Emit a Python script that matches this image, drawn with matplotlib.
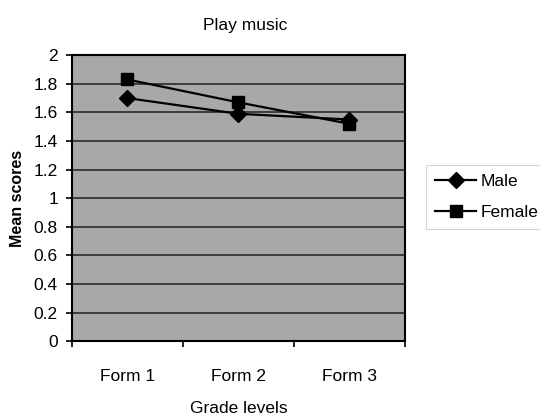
import matplotlib
matplotlib.use("Agg")
import matplotlib.pyplot as plt
import numpy as np

plt.rcParams["font.family"] = ["Liberation Sans", "DejaVu Sans"]

# Mean scores per grade level
grades = ["Form 1", "Form 2", "Form 3"]
male = [1.70, 1.59, 1.55]
female = [1.83, 1.67, 1.52]
y_ticks = [0, 0.2, 0.4, 0.6, 0.8, 1, 1.2, 1.4, 1.6, 1.8, 2]

fig = plt.figure(figsize=(5.4, 4.15), dpi=100)
ax = fig.add_axes([0.133, 0.178, 0.617, 0.689])

x = np.arange(len(grades))
ax.set_facecolor("#a8a8a8")

ax.plot(x, male, color="black", linewidth=1.6, marker="D",
        markersize=8, label="Male", zorder=3)
ax.plot(x, female, color="black", linewidth=1.6, marker="s",
        markersize=9, label="Female", zorder=3)

ax.set_xlim(-0.5, len(grades) - 0.5)
ax.set_ylim(0, 2)
ax.set_yticks(y_ticks)
ax.set_yticklabels([f"{v:g}" for v in y_ticks])
ax.set_xticks(x)
ax.set_xticklabels(grades)
ax.set_xticks(np.arange(-0.5, len(grades), 1), minor=True)

ax.grid(axis="y", color="#2a2a2a", linewidth=1.2)
ax.set_axisbelow(True)
for side in ax.spines.values():
    side.set_color("black")
    side.set_linewidth(1.5)

ax.tick_params(axis="y", which="major", length=4, width=1.2,
               labelsize=12.5, pad=6)
ax.tick_params(axis="x", which="major", length=0, labelsize=12.5, pad=20)
ax.tick_params(axis="x", which="minor", length=4, width=1.2)

ax.set_title("Play music", fontsize=12.5, pad=18, x=0.52)
ax.set_xlabel("Grade levels", fontsize=12.5, labelpad=12)
ax.set_ylabel("Mean scores", fontsize=11.5, fontweight="bold", labelpad=6)

# legend sits to the right of the plot area
leg = fig.legend(loc="upper left", bbox_to_anchor=(426 / 540, 1 - 165 / 415),
                 frameon=True, fontsize=12.5, handlelength=2.4,
                 handletextpad=0.25, borderpad=0.5, borderaxespad=0,
                 labelspacing=0.95, fancybox=False)
leg.get_frame().set_edgecolor("#cccccc")
leg.get_frame().set_linewidth(0.8)

fig.savefig("out.png", dpi=100)
plt.close(fig)
